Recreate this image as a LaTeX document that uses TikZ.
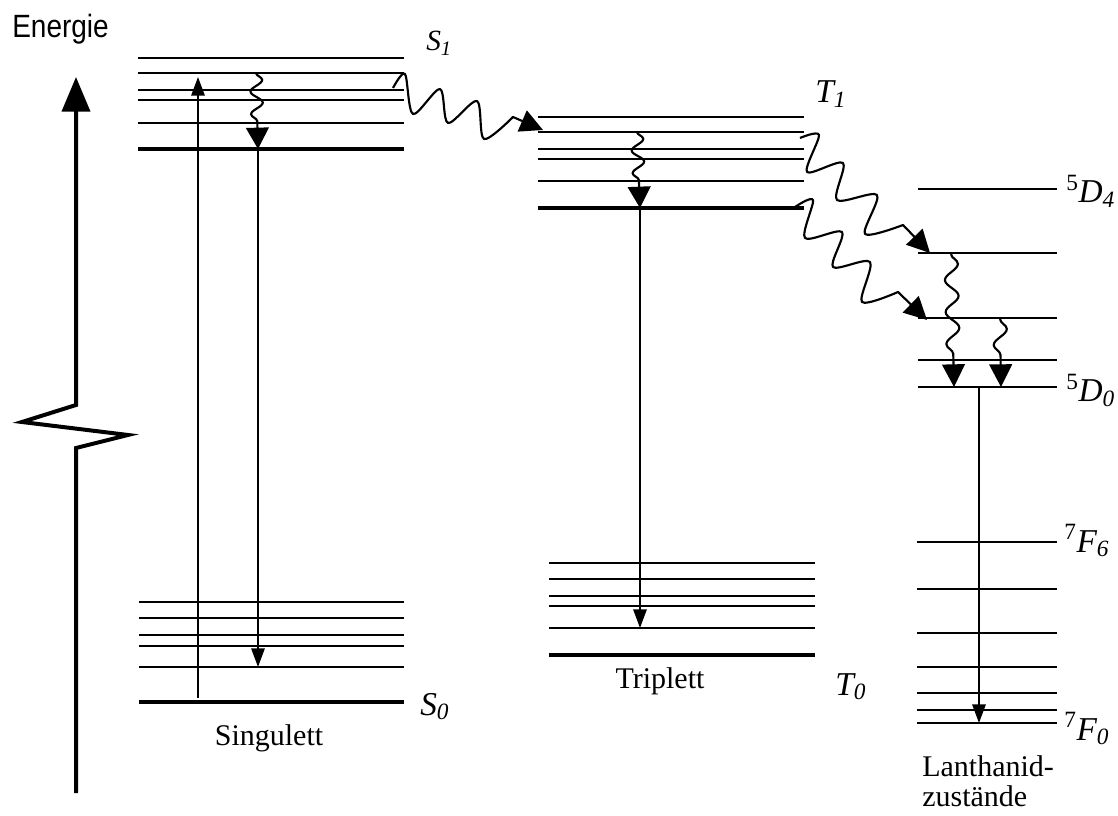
\documentclass[tikz,border=0pt]{standalone}
\usepackage{fontspec}
\setmainfont{Liberation Serif}
\newfontfamily\sansf{Liberation Sans}
\usetikzlibrary{arrows.meta,decorations.pathmorphing}
\begin{document}
\begin{tikzpicture}[x=0.75pt,y=-0.75pt,line join=miter,
  lvl/.style={line width=1.9pt},
  glvl/.style={line width=3pt},
  trans/.style={line width=1.5pt,-{Triangle[length=14pt,width=10pt]}},
  vwavy/.style={line width=1.6pt,-{Triangle[length=16pt,width=17pt]},decorate,
    decoration={snake,amplitude=4.5pt,segment length=17pt,post length=17pt}},
  lwavy/.style={line width=1.6pt,-{Triangle[length=17pt,width=17pt]},decorate,
    decoration={snake,amplitude=5pt,segment length=24pt,post length=18pt}},
  dwavy/.style={line width=1.6pt,-{Triangle[length=17pt,width=17pt]},line join=round},
  lab/.style={font=\fontsize{25}{28}\selectfont\itshape,inner sep=0pt,anchor=base west},
  captxt/.style={font=\fontsize{22.5}{24}\selectfont,inner sep=0pt,anchor=base}]
\useasboundingbox (0,0) rectangle (1118,816);

% energy axis
\node[font=\sansf\fontsize{21}{24}\selectfont,inner sep=0pt,anchor=base west] (energie) at (12,38) {\scalebox{1}[1.15]{Energie}};
\coordinate (axb) at (76,793);
\coordinate (axt) at (76,77);
\draw[line width=3pt,-{Triangle[length=26pt,width=21pt]}] (axb) -- (76,448) -- (128,435) -- (22,422) -- (76,405) -- (axt);

% Singulett levels
\foreach \y in {58,73,90,100,123} \draw[lvl] (138,\y) -- (404,\y);
\draw[glvl] (138,149) -- (404,149);
\foreach \y in {602,618,635,646,667} \draw[lvl] (139,\y) -- (404,\y);
\draw[glvl] (139,702) -- (404,702);

% Triplett levels
\foreach \y in {117,132,149,159,181} \draw[lvl] (538,\y) -- (804,\y);
\draw[glvl] (538,208) -- (804,208);
\foreach \y in {563,579,596,606,628} \draw[lvl] (549,\y) -- (815,\y);
\draw[glvl] (549,655) -- (815,655);

% Lanthanide levels
\foreach \y in {189,253,318,360,387} \draw[lvl] (918,\y) -- (1057,\y);
\foreach \y in {542,589,633,667,693,710,723} \draw[lvl] (917,\y) -- (1057,\y);

% labels
\node[lab,font=\fontsize{22}{25}\selectfont\itshape] (s1) at (426,51) {S\textsubscript{1}};
\node[lab] (s0) at (420,715) {S\textsubscript{0}};
\node[lab] (t1) at (815,103) {T\textsubscript{1}};
\node[lab] (t0) at (835,695) {T\textsubscript{0}};
\node[lab] (d4) at (1066,203) {\textsuperscript{\upshape 5}D\textsubscript{4}};
\node[lab] (d0) at (1066,402) {\textsuperscript{\upshape 5}D\textsubscript{0}};
\node[lab] (f6) at (1064,552) {\textsuperscript{\upshape 7}F\textsubscript{6}};
\node[lab] (f0) at (1064,740) {\textsuperscript{\upshape 7}F\textsubscript{0}};
\node[captxt] (sing) at (269,745) {Singulett};
\node[captxt] (trip) at (660,688) {Triplett};
\node[captxt,anchor=base west] (lan1) at (922,776) {Lanthanid-};
\node[captxt,anchor=base west] (lan2) at (922,806) {zustände};

% coordinates for transitions
\coordinate (abs0) at (198,698);
\coordinate (abs1) at (198,77);
\coordinate (ic1a) at (256,73);
\coordinate (ic1b) at (258,149);
\coordinate (fl) at (258,667);
\coordinate (iscA) at (393,88);
\coordinate (iscB) at (543,130);
\coordinate (ic2a) at (637,132);
\coordinate (ic2b) at (640,208);
\coordinate (ph) at (640,628);
\coordinate (etA1) at (800,138);
\coordinate (etA2) at (930,253);
\coordinate (etB1) at (795,207);
\coordinate (etB2) at (927,320);
\coordinate (ic3a) at (951,254);
\coordinate (ic3b) at (954,387);
\coordinate (ic4a) at (1000,319);
\coordinate (ic4b) at (1001,387);
\coordinate (emA) at (979,387);
\coordinate (emB) at (979,723);

% transitions
\draw[trans] (abs0) -- (abs1);
\draw[vwavy] (ic1a) -- (ic1b);
\draw[trans] (ic1b) -- (fl);
\draw[dwavy] plot[smooth,tension=0.5] coordinates {(iscA) (405,74) (413,114) (440,89) (448,123) (477,101) (484,139) (513,117)} -- (iscB);
\draw[vwavy] (ic2a) -- (ic2b);
\draw[trans] (ic2b) -- (ph);
\draw[dwavy] plot[smooth,tension=0.5] coordinates {(etA1) (819,135) (807,172) (843,163) (837,200) (877,195) (865,234) (903,225)} -- (etA2);
\draw[dwavy] plot[smooth,tension=0.5] coordinates {(etB1) (813,200) (805,238) (842,232) (833,267) (870,262) (862,302) (898,292)} -- (etB2);
\draw[lwavy] (ic3a) -- (ic3b);
\draw[lwavy] (ic4a) -- (ic4b);
\draw[trans] (emA) -- (emB);
\end{tikzpicture}
\end{document}
